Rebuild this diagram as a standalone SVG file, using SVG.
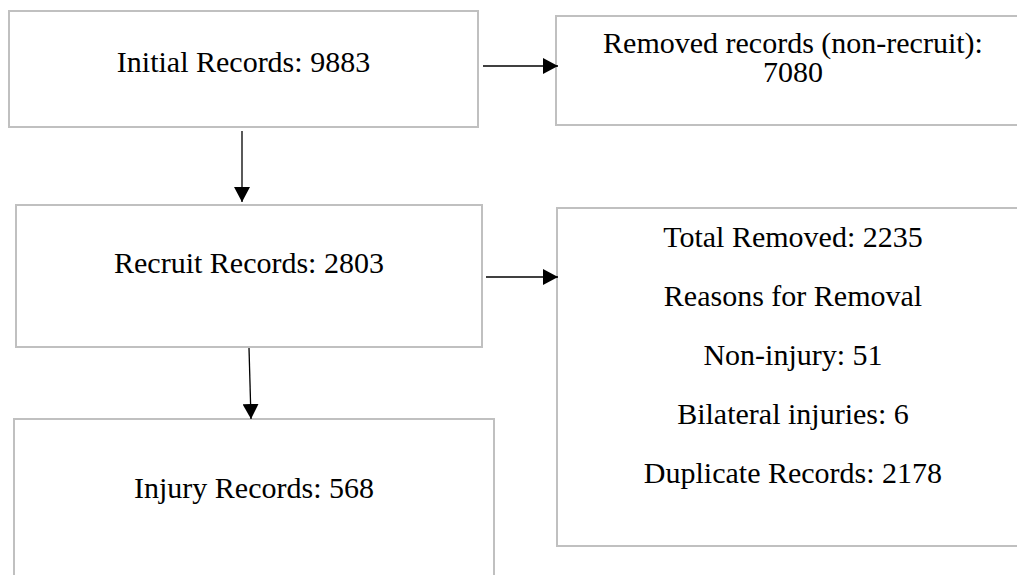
<svg xmlns="http://www.w3.org/2000/svg" width="1017" height="575" viewBox="0 0 1017 575">
  <style>
    .box { fill: #ffffff; stroke: #c0c0c0; stroke-width: 2; }
    .lbl { font-family: "Liberation Serif", "Times New Roman", serif; font-size: 30px; fill: #000000; text-anchor: middle; }
    .conn { stroke: #000000; stroke-width: 1.3; fill: none; marker-end: url(#arrow); }
  </style>
  <defs>
    <marker id="arrow" markerUnits="userSpaceOnUse" markerWidth="16" markerHeight="16" refX="15" refY="8" orient="auto">
      <path d="M0,0 L15,8 L0,16 Z" fill="#000000"/>
    </marker>
  </defs>
  <rect width="1017" height="575" fill="#ffffff"/>

  <g id="initial">
    <rect class="box" x="9" y="11" width="469" height="116"/>
    <text class="lbl" x="243.5" y="72">Initial Records: 9883</text>
  </g>

  <g id="removed-nonrecruit">
    <rect class="box" x="556" y="16" width="480" height="109"/>
    <text class="lbl" x="793" y="53">Removed records (non-recruit):</text>
    <text class="lbl" x="793" y="82">7080</text>
  </g>

  <g id="recruit">
    <rect class="box" x="16" y="205" width="466" height="142"/>
    <text class="lbl" x="249" y="273">Recruit Records: 2803</text>
  </g>

  <g id="total-removed">
    <rect class="box" x="557" y="208" width="480" height="338"/>
    <text class="lbl" x="793" y="247">Total Removed: 2235</text>
    <text class="lbl" x="793" y="306">Reasons for Removal</text>
    <text class="lbl" x="793" y="365">Non-injury: 51</text>
    <text class="lbl" x="793" y="424">Bilateral injuries: 6</text>
    <text class="lbl" x="793" y="483">Duplicate Records: 2178</text>
  </g>

  <g id="injury">
    <rect class="box" x="14" y="419" width="480" height="170"/>
    <text class="lbl" x="254" y="498">Injury Records: 568</text>
  </g>

  <g id="connectors">
    <line class="conn" x1="483" y1="66" x2="558" y2="66"/>
    <line class="conn" x1="242" y1="131" x2="242" y2="202"/>
    <line class="conn" x1="486" y1="277" x2="558" y2="277"/>
    <line class="conn" x1="249" y1="348" x2="251" y2="419"/>
  </g>
</svg>
